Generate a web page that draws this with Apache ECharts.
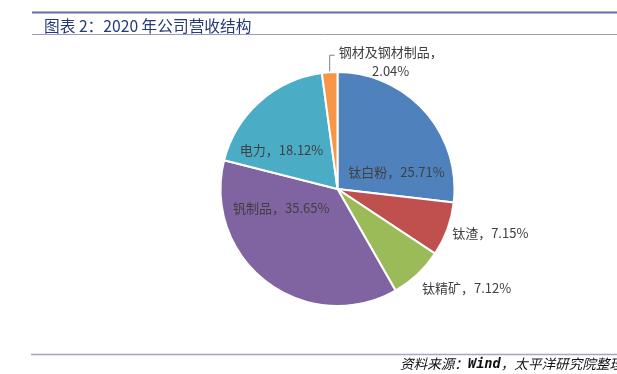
<!DOCTYPE html>
<html>
<head>
<meta charset="utf-8">
<script src="https://cdn.jsdelivr.net/npm/echarts@6/dist/echarts.min.js"></script>
<style>
html,body{margin:0;padding:0;background:#fff;}
#chart{width:617px;height:374px;}
</style>
</head>
<body>
<div id="chart"></div>
<script>
var categories = ['钛白粉', '钛渣', '钛精矿', '钒制品', '电力', '钢材及钢材制品'];
var shares = [25.71, 7.15, 7.12, 35.65, 18.12, 2.04];
var sliceColors = ['#4f81bd', '#c0504d', '#9bbb59', '#8064a2', '#4bacc6', '#f79646'];
var titleText = '图表 2：2020 年公司营收结构';
var sourcePrefix = '资料来源：';
var sourceName = 'Wind';
var sourceSuffix = '，太平洋研究院整理';

// label shifts from default inside position (pixels)
var labelShift = [[13, 24], [95, 23], [87, 54], [-19, -30], [-15, 7], [0, 0]];

var chart = echarts.init(document.getElementById('chart'), null, {renderer: 'canvas'});
var labelFont = '"Noto Sans CJK SC", "Noto Sans", sans-serif';

var data = categories.map(function (n, i) {
  var item = {name: n, value: shares[i], itemStyle: {color: sliceColors[i]}};
  if (i === categories.length - 1) {
    item.label = {
      position: 'outside',
      formatter: '{t|{b}，}\n{t|{c}%}',
      rich: {t: {width: 102, align: 'center', lineHeight: 19, color: '#404040', fontSize: 13, fontFamily: labelFont}}
    };
    item.labelLine = {show: true, length: 15, length2: 5, lineStyle: {color: '#808080', width: 1}};
  } else {
    item.label = {position: 'inside'};
    item.labelLine = {show: false};
  }
  return item;
});

chart.setOption({
  animation: false,
  backgroundColor: '#fff',
  title: {
    text: titleText,
    left: 39, top: 13,
    textStyle: {color: '#24387a', fontSize: 15.7, fontWeight: 'normal', fontFamily: labelFont}
  },
  graphic: [
    {type: 'line', shape: {x1: 32, y1: 12.5, x2: 617, y2: 12.5}, style: {stroke: '#6b6ba6', lineWidth: 2}},
    {type: 'line', shape: {x1: 32, y1: 34.5, x2: 617, y2: 34.5}, style: {stroke: '#9a9ac0', lineWidth: 1}},
    {type: 'line', shape: {x1: 31, y1: 354.5, x2: 617, y2: 354.5}, style: {stroke: '#a4a4cc', lineWidth: 1.5}},
    {type: 'text', left: 400, top: 357, style: {
      text: '{a|' + sourcePrefix + '}{b|' + sourceName + '}{a|' + sourceSuffix + '}',
      rich: {
        a: {fill: '#111', fontStyle: 'italic', fontSize: 13.6, fontFamily: labelFont},
        b: {fill: '#111', fontStyle: 'italic', fontWeight: 'bold', fontSize: 13.6, fontFamily: '"DejaVu Sans Mono", monospace'}
      }
    }}
  ],
  series: [{
    type: 'pie',
    center: [337.5, 189],
    radius: 117,
    startAngle: 90,
    clockwise: true,
    avoidLabelOverlap: false,
    itemStyle: {borderColor: '#fff', borderWidth: 2},
    label: {
      show: true,
      formatter: '{b}，{c}%',
      color: '#404040',
      fontSize: 13,
      fontFamily: labelFont
    },
    labelLayout: function (p) {
      var i = p.dataIndex;
      if (i === categories.length - 1 && p.labelLinePoints) {
        var e = p.labelLinePoints[0];
        var elbowY = e[1] - 17;
        return {
          x: e[0] + 10,
          y: elbowY + 6,
          align: 'left',
          verticalAlign: 'middle',
          labelLinePoints: [[e[0], e[1]], [e[0], elbowY], [e[0] + 5, elbowY]]
        };
      }
      return {dx: labelShift[i][0], dy: labelShift[i][1]};
    },
    data: data
  }]
});
</script>
</body>
</html>
